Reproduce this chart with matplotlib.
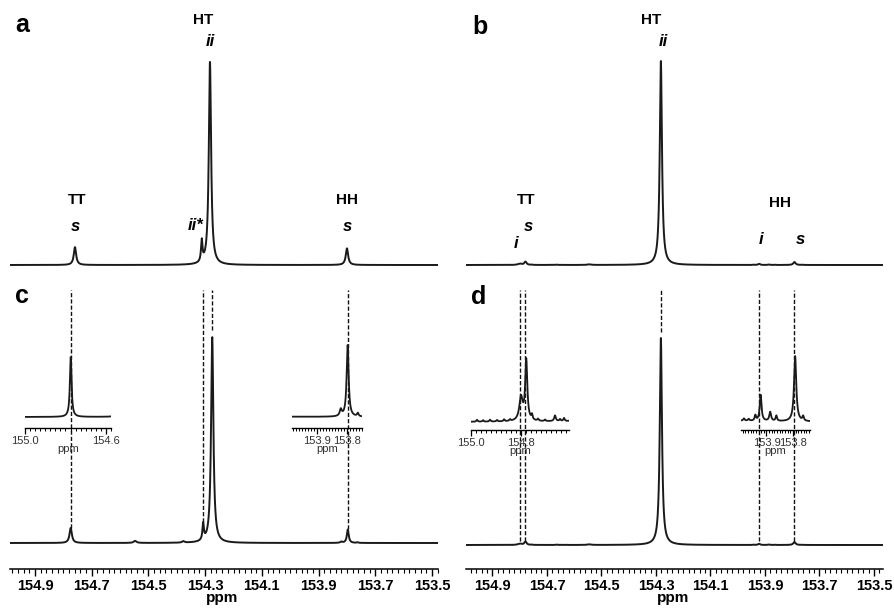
import numpy as np
import matplotlib
matplotlib.use('Agg')
import matplotlib.pyplot as plt
from matplotlib.ticker import FixedLocator, FormatStrFormatter

plt.rcParams['font.family'] = ['Liberation Sans', 'DejaVu Sans']

W, H = 894, 610

# peak lists (ppm, height, half width)
a_pos = [154.759, 154.312, 154.283, 153.800]
a_hgt = [0.088, 0.105, 1.0, 0.082]
a_wid = [0.005, 0.003, 0.0048, 0.005]

c_pos = [154.774, 154.547, 154.377, 154.307, 154.275, 153.820, 153.797, 153.763]
c_hgt = [0.073, 0.010, 0.007, 0.080, 1.0, 0.006, 0.065, 0.003]
c_wid = [0.005, 0.006, 0.005, 0.003, 0.0048, 0.004, 0.004, 0.003]

# sample 2 (b and d), plus the small wiggles seen in the d insets
b_pos = [154.800, 154.779, 154.545, 154.282, 153.922, 153.792,
         154.976, 154.952, 154.924, 154.896, 154.868, 154.844,
         154.756, 154.732, 154.704, 154.664, 154.644, 154.628,
         153.985, 153.967, 153.942, 153.886, 153.863, 153.762]
b_hgt = [0.0062, 0.016, 0.003, 1.0, 0.0058, 0.0145,
         0.0005, 0.0004, 0.0005, 0.0004, 0.0005, 0.0004,
         0.0013, 0.0005, 0.0004, 0.0015, 0.0005, 0.0008,
         0.0005, 0.0004, 0.0012, 0.0020, 0.0012, 0.0010]
b_wid = [0.008, 0.005, 0.008, 0.0048, 0.004, 0.005,
         0.003, 0.003, 0.003, 0.003, 0.003, 0.003,
         0.003, 0.003, 0.003, 0.004, 0.003, 0.003,
         0.003, 0.003, 0.003, 0.004, 0.003, 0.003]

main_ticks = [154.9, 154.7, 154.5, 154.3, 154.1, 153.9, 153.7, 153.5]

# dashed guide lines (ppm, lower end in intensity units)
dash_c = [154.774, 154.307, 154.275, 153.797]
dash_c_end = [0.075, 0.10, 1.035, 0.067]
dash_d = [154.800, 154.779, 154.282, 153.922, 153.792]
dash_d_end = [0.02, 0.02, 1.03, 0.02, 0.02]


def spectrum(x, pos, hgt, wid):
    y = np.zeros_like(x)
    for p, h, w in zip(pos, hgt, wid):
        y += h / (1 + ((x - p) / w) ** 2)
    return y


def px_axes(x0, y0, x1, y1):
    return fig.add_axes([x0 / W, 1 - y1 / H, (x1 - x0) / W, (y1 - y0) / H])


def fit_y(ax, y0, y1, base, top, val):
    # map 0 -> base pixel, val -> top pixel
    ppu = (base - top) / val
    ax.set_ylim(-(y1 - base) / ppu, (base - y0) / ppu)
    return ppu


def bare(ax):
    for s in ax.spines.values():
        s.set_visible(False)
    ax.set_xticks([])
    ax.set_yticks([])
    ax.patch.set_alpha(0)


def draw(ax, xlim, pos, hgt, wid, lw=1.4):
    x = np.linspace(xlim[0], xlim[1], 4000)
    y = spectrum(x, pos, hgt, wid)
    ax.plot(x, y, color='#1a1a1a', lw=lw)
    ax.set_xlim(xlim)
    return x, y


def ftext(x, y, s, **kw):
    fig.text(x / W, 1 - y / H, s, ha='center', va='center', **kw)


fig = plt.figure(figsize=(W / 100, H / 100), dpi=100)

left_lim = (154.988, 153.479)
right_lim = (154.997, 153.467)

# ---- a ----
ax_a = px_axes(10, 0, 438, 280)
draw(ax_a, left_lim, a_pos, a_hgt, a_wid)
fit_y(ax_a, 0, 280, 265, 62, 1.0)
bare(ax_a)

# ---- b ----
ax_b = px_axes(466, 0, 883, 280)
draw(ax_b, right_lim, b_pos, b_hgt, b_wid)
fit_y(ax_b, 0, 280, 265, 61, 1.0)
bare(ax_b)


def main_axis(ax):
    for k in ['top', 'left', 'right']:
        ax.spines[k].set_visible(False)
    ax.spines['bottom'].set_linewidth(1.1)
    ax.set_yticks([])
    ax.xaxis.set_major_locator(FixedLocator(main_ticks))
    ax.xaxis.set_major_formatter(FormatStrFormatter('%.1f'))
    ax.xaxis.set_minor_locator(FixedLocator(np.arange(153.46, 155.0, 0.02)))
    ax.tick_params(axis='x', which='major', length=5, width=1, pad=2, labelsize=10.5)
    ax.tick_params(axis='x', which='minor', length=3, width=0.8)
    for lab in ax.get_xticklabels():
        lab.set_fontweight('bold')
    ax.patch.set_alpha(0)


# ---- c ----
ax_c = px_axes(10, 285, 438, 569)
draw(ax_c, left_lim, c_pos, c_hgt, c_wid)
ppu_c = fit_y(ax_c, 285, 569, 543, 337, 1.0)
main_axis(ax_c)
top_c = (543 - 290) / ppu_c
for p, e in zip(dash_c, dash_c_end):
    ax_c.plot([p, p], [e, top_c], color='#111', lw=1.0, ls=(0, (3, 1.5)), clip_on=False)

# ---- d ----
ax_d = px_axes(466, 285, 883, 569)
draw(ax_d, right_lim, b_pos, b_hgt, b_wid)
ppu_d = fit_y(ax_d, 285, 569, 545, 338, 1.0)
main_axis(ax_d)
top_d = (545 - 290) / ppu_d
for p, e in zip(dash_d, dash_d_end):
    ax_d.plot([p, p], [e, top_d], color='#111', lw=1.0, ls=(0, (3, 1.5)), clip_on=False)


def inset(box, xlim, pos, hgt, wid, base, top, labels, minor):
    x0, y0, x1, y1 = box
    ax = px_axes(x0, y0, x1, y1)
    x, y = draw(ax, xlim, pos, hgt, wid, lw=1.3)
    fit_y(ax, y0, y1, base, top, y.max())
    for k in ['top', 'left', 'right']:
        ax.spines[k].set_visible(False)
    ax.spines['bottom'].set_linewidth(1.0)
    ax.set_yticks([])
    ax.xaxis.set_major_locator(FixedLocator(labels))
    ax.xaxis.set_major_formatter(FormatStrFormatter('%.1f'))
    lo, hi = min(xlim), max(xlim)
    ax.xaxis.set_minor_locator(FixedLocator(np.arange(np.ceil(lo / minor) * minor, hi, minor)))
    ax.tick_params(axis='x', which='major', length=4, width=0.9, pad=1.5,
                   labelsize=8, labelcolor='#333')
    ax.tick_params(axis='x', which='minor', length=2.2, width=0.7)
    ax.set_xlabel('ppm', fontsize=8, color='#333', labelpad=-1)
    ax.patch.set_alpha(0)
    return ax


inset((25, 335, 111, 428), (155.0, 154.575), c_pos, c_hgt, c_wid, 417, 357,
      [155.0, 154.6], 0.025)
inset((292, 325, 362, 428), (153.983, 153.749), c_pos, c_hgt, c_wid, 417, 345,
      [153.9, 153.8], 0.01)
inset((471, 335, 569, 430), (155.0, 154.608), b_pos, b_hgt, b_wid, 422, 358,
      [155.0, 154.8, 154.6], 0.02)
inset((741, 335, 810, 430), (153.996, 153.736), b_pos, b_hgt, b_wid, 422, 356,
      [153.9, 153.8], 0.01)

# panel letters, axis titles and peak labels
bold = dict(fontweight='bold')
ital = dict(fontweight='bold', style='italic')
ftext(22, 25, 'a', fontsize=18, **bold)
ftext(480, 27, 'b', fontsize=18, **bold)
ftext(22, 296, 'c', fontsize=18, **bold)
ftext(479, 297, 'd', fontsize=18, **bold)

ftext(222, 598, 'ppm', fontsize=11, **bold)
ftext(673, 598, 'ppm', fontsize=11, **bold)

ftext(203, 20, 'HT', fontsize=11, **bold)
ftext(210, 41, 'ii', fontsize=12, **ital)
ftext(77, 200, 'TT', fontsize=11, **bold)
ftext(75, 226, 's', fontsize=12, **ital)
ftext(196, 225, 'ii*', fontsize=12, **ital)
ftext(347, 200, 'HH', fontsize=11, **bold)
ftext(347, 226, 's', fontsize=12, **ital)

ftext(651, 20, 'HT', fontsize=11, **bold)
ftext(663, 42, 'ii', fontsize=12, **ital)
ftext(526, 200, 'TT', fontsize=11, **bold)
ftext(528, 226, 's', fontsize=12, **ital)
ftext(516, 244, 'i', fontsize=12, **ital)
ftext(780, 203, 'HH', fontsize=11, **bold)
ftext(761, 239, 'i', fontsize=12, **ital)
ftext(800, 239, 's', fontsize=12, **ital)

fig.savefig('out.png', dpi=100)
